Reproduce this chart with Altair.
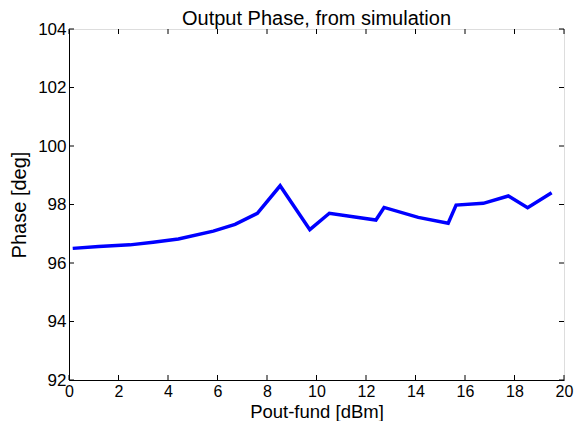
import altair as alt
import pandas as pd

# Data
pout = [0.15, 1.2, 2.46, 3.4, 4.42, 5.83, 6.71, 7.61, 8.53, 9.73, 10.52, 12.40, 12.73,
        14.11, 15.32, 15.64, 16.74, 17.75, 18.53, 19.50]
phase = [96.50, 96.56, 96.62, 96.71, 96.82, 97.09, 97.32, 97.70, 98.64, 97.14, 97.70,
         97.47, 97.90, 97.56, 97.36, 97.98, 98.04, 98.29, 97.89, 98.40]
x_ticks = [0, 2, 4, 6, 8, 10, 12, 14, 16, 18, 20]
y_ticks = [92, 94, 96, 98, 100, 102, 104]

W, H = 495, 351
FONT = "Liberation Sans"
XT = "Pout-fund [dBm]"
YT = "Phase [deg]"

xscale = alt.Scale(domain=[0, 20], nice=False, zero=False)
yscale = alt.Scale(domain=[92, 104], nice=False, zero=False)

xaxis = alt.Axis(values=x_ticks, title=XT, ticks=False, grid=False, labelPadding=3,
                 labelFontSize=16, titleFontSize=18.5, titleY=37.5, titleBaseline="alphabetic",
                 labelFont=FONT,
                 titleFont=FONT, titleFontWeight="normal", labelColor="black",
                 titleColor="black", domainColor="black", labelFlush=False)
yaxis = alt.Axis(values=y_ticks, title=YT, ticks=False, grid=False, labelPadding=3,
                 labelFontSize=17, titleFontSize=20, titlePadding=8, labelFont=FONT,
                 titleFont=FONT, titleFontWeight="normal", labelColor="black",
                 titleColor="black", domainColor="black", labelFlush=False)

df = pd.DataFrame({"x": pout, "y": phase})
dfx = pd.DataFrame({"x": x_ticks})
dfy = pd.DataFrame({"y": y_ticks})

line = alt.Chart(df).mark_line(color="#0000FF", strokeWidth=3.5).encode(
    x=alt.X("x:Q", scale=xscale, axis=xaxis),
    y=alt.Y("y:Q", scale=yscale, axis=yaxis),
)

tick_style = dict(color="black", strokeWidth=1)
xb = alt.Chart(dfx).mark_rule(**tick_style).encode(
    x=alt.X("x:Q", scale=xscale, title=XT), y=alt.value(H), y2=alt.value(H - 5))
xt = alt.Chart(dfx).mark_rule(**tick_style).encode(
    x=alt.X("x:Q", scale=xscale, title=XT), y=alt.value(0), y2=alt.value(5))
yl = alt.Chart(dfy).mark_rule(**tick_style).encode(
    y=alt.Y("y:Q", scale=yscale, title=YT), x=alt.value(0), x2=alt.value(5))
yr = alt.Chart(dfy).mark_rule(**tick_style).encode(
    y=alt.Y("y:Q", scale=yscale, title=YT), x=alt.value(W), x2=alt.value(W - 5))

chart = alt.layer(line, xb, xt, yl, yr).properties(
    width=W, height=H,
    title=alt.TitleParams("Output Phase, from simulation", font=FONT, fontSize=20,
                          fontWeight="normal", color="black", offset=4, frame="group",
                          dy=13),
    autosize=alt.AutoSizeParams(type="none"),
    padding={"left": 61, "top": 21, "right": 11, "bottom": 41},
).configure_view(stroke="black", strokeWidth=1).configure(background="white")

chart.save("out.html", embed_options={"renderer": "svg", "actions": False})
